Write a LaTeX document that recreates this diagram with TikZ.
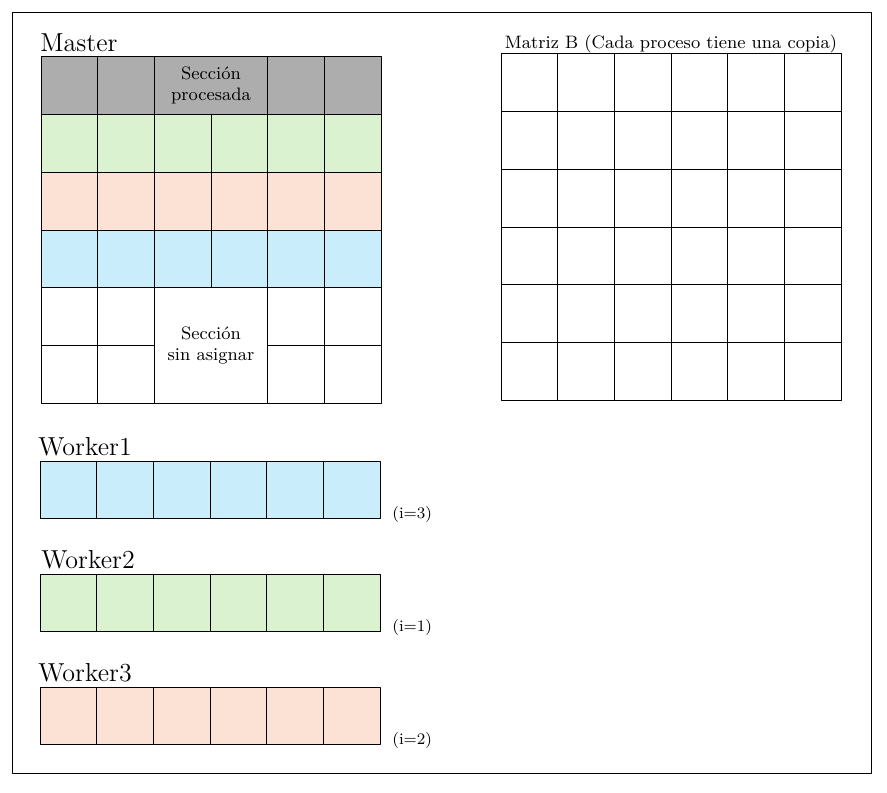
\documentclass[tikz,border=0pt]{standalone}
\definecolor{procgray}{HTML}{ADADAD}
\definecolor{rowgreen}{HTML}{DAF2D0}
\definecolor{rowpeach}{HTML}{FBE2D5}
\definecolor{rowblue}{HTML}{CAEDFB}
\tikzset{
  cell/.style={draw=black, line width=0.5pt},
  title/.style={anchor=base west, inner sep=0pt, font=\fontsize{13}{15}\selectfont},
  small/.style={align=center, inner sep=0pt, font=\fontsize{9}{10.5}\selectfont},
  index/.style={anchor=base west, inner sep=0pt, font=\fontsize{8}{9}\selectfont}
}
\begin{document}
\begin{tikzpicture}[x=0.5pt, y=-0.5pt, line join=round, line cap=round]
\def\w{56.667} \def\h{57.667}
\def\mx{41} \def\my{57}
\def\bx{501} \def\by{54}
\useasboundingbox (0,0) rectangle (887,792);
\draw[line width=0.5pt] (12,13) rectangle (871,773);
% Master
\node[title] (master) at (40,52) {Master};
\foreach \i in {0,1,4,5}
  \draw[cell, fill=procgray] (\mx+\i*\w,\my) rectangle +(\w,\h);
\draw[cell, fill=procgray] (\mx+2*\w,\my) rectangle +(2*\w,\h);
\foreach \i in {0,...,5} {
  \draw[cell, fill=rowgreen] (\mx+\i*\w,\my+\h) rectangle +(\w,\h);
  \draw[cell, fill=rowpeach] (\mx+\i*\w,\my+2*\h) rectangle +(\w,\h);
  \draw[cell, fill=rowblue] (\mx+\i*\w,\my+3*\h) rectangle +(\w,\h);
}
\foreach \i in {0,1,4,5}
  \foreach \j in {4,5}
    \draw[cell] (\mx+\i*\w,\my+\j*\h) rectangle +(\w,\h);
\draw[cell] (\mx+2*\w,\my+4*\h) rectangle +(2*\w,2*\h);
\node[small] (procesada) at (\mx+3*\w,\my+0.5*\h) {Sección\\procesada};
\node[small] (asignar) at (\mx+3*\w,\my+5*\h) {Sección\\sin asignar};
% Matriz B
\node[small, anchor=base] (matrizb) at (\bx+3*\w,49) {Matriz B (Cada proceso tiene una copia)};
\foreach \i in {0,...,5}
  \foreach \j in {0,...,5}
    \draw[cell] (\bx+\i*\w,\by+\j*\h) rectangle +(\w,\h);
% Workers
\foreach \k/\y/\tx/\c/\n in {1/461/38/rowblue/3, 2/574/41/rowgreen/1, 3/687/38/rowpeach/2} {
  \node[title] (worker\k) at (\tx,\y-6) {Worker\k};
  \foreach \i in {0,...,5}
    \draw[cell, fill=\c] (40+\i*\w,\y) rectangle +(\w,\h);
  \node[index] (idx\k) at (392,\y+\h) {(i=\n)};
}
\end{tikzpicture}
\end{document}
